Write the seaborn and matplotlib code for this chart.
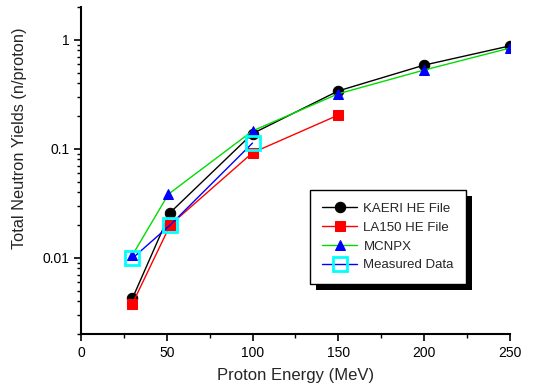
import matplotlib
matplotlib.use("Agg")
import matplotlib.pyplot as plt
import seaborn as sns
import pandas as pd
from matplotlib.ticker import MultipleLocator, LogLocator, FixedLocator, NullFormatter
from matplotlib.patches import Rectangle

sns.set_theme(style="ticks")
plt.rcParams['font.family'] = ['Liberation Sans', 'DejaVu Sans']

kaeri_x = [30, 52, 100, 150, 200, 250]
kaeri_y = [0.00425, 0.026, 0.138, 0.34, 0.586, 0.88]
la150_x = [30, 52, 100, 150]
la150_y = [0.0038, 0.020, 0.092, 0.204]
mcnpx_x = [30, 51, 100, 150, 200, 250]
mcnpx_y = [0.0106, 0.0384, 0.146, 0.32, 0.528, 0.84]
meas_x = [30, 52, 100]
meas_y = [0.0099, 0.020, 0.113]

series = [
    ("KAERI HE File", kaeri_x, kaeri_y, dict(color="black", marker="o", markersize=7.5,
                                              markerfacecolor="black", markeredgecolor="black")),
    ("LA150 HE File", la150_x, la150_y, dict(color="red", marker="s", markersize=6.5,
                                             markerfacecolor="red", markeredgecolor="red")),
    ("MCNPX", mcnpx_x, mcnpx_y, dict(color="#00dd00", marker="^", markersize=7.5,
                                     markerfacecolor="blue", markeredgecolor="blue")),
    ("Measured Data", meas_x, meas_y, dict(color="blue", marker="s", markersize=10,
                                           markerfacecolor="none", markeredgecolor="cyan",
                                           markeredgewidth=2)),
]

fig = plt.figure(figsize=(5.4, 3.92), dpi=100)
ax = fig.add_axes([0.15, 0.148, 0.794, 0.834])

for name, xs, ys, kw in series:
    df = pd.DataFrame({"x": xs, "y": ys})
    sns.lineplot(data=df, x="x", y="y", ax=ax, label=name, linewidth=1, **kw)

ax.set_yscale("log")
ax.set_xlim(0, 250)
ax.set_ylim(0.002, 2)
ax.xaxis.set_major_locator(MultipleLocator(50))
ax.xaxis.set_minor_locator(MultipleLocator(25))
ax.yaxis.set_major_locator(FixedLocator([0.01, 0.1, 1]))
ax.yaxis.set_major_formatter(matplotlib.ticker.FuncFormatter(lambda v, p: f"{v:g}"))
ax.yaxis.set_minor_locator(LogLocator(base=10, subs=range(2, 10)))
ax.yaxis.set_minor_formatter(NullFormatter())

for s in ["top", "right"]:
    ax.spines[s].set_visible(False)
for s in ["left", "bottom"]:
    ax.spines[s].set_linewidth(1.5)
    ax.spines[s].set_color("black")

ax.tick_params(axis="both", which="major", direction="out", length=5, width=1.2,
               labelsize=10, colors="black")
ax.tick_params(axis="both", which="minor", direction="out", length=3, width=1, colors="black")

ax.set_xlabel("Proton Energy (MeV)", fontsize=12, labelpad=6)
ax.set_ylabel("Total Neutron Yields (n/proton)", fontsize=11.8)
ax.yaxis.set_label_coords(-0.125, 0.60)

leg = ax.legend(loc="upper left", bbox_to_anchor=(0.534, 0.44), frameon=True, fancybox=False,
                shadow=False, edgecolor="black", framealpha=1,
                fontsize=9.5, handlelength=2.6, borderpad=0.95, labelspacing=0.5,
                borderaxespad=0, handletextpad=0.5)
leg.get_frame().set_linewidth(1)

fig.canvas.draw()
bb = leg.get_window_extent()
inv = ax.transAxes.inverted()
(x0, y0) = inv.transform((bb.x0 + 6, bb.y0 - 6))
(x1, y1) = inv.transform((bb.x1 + 6, bb.y1 - 6))
ax.add_patch(Rectangle((x0, y0), x1 - x0, y1 - y0, transform=ax.transAxes,
                       facecolor="black", edgecolor="none", zorder=4.9, clip_on=False))

fig.savefig("out.png", dpi=100)
